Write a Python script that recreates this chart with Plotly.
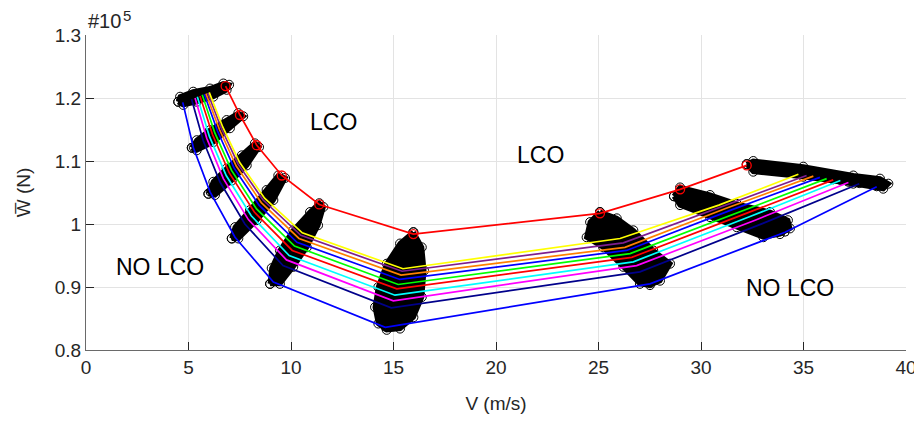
import plotly.graph_objects as go

# ---------------- data ----------------
# vertices of each curve at the 9 clusters (V in m/s, W in 1e5 N)
line_names = ["blue", "navy", "magenta", "cyan", "red", "green", "blue2",
              "orange", "purple", "yellow", "top"]
line_colors = ["#0000FF", "#00008B", "#FF00FF", "#00FFFF", "#FF0000", "#00FF00",
               "#0000FF", "#FF8000", "#7E1E8E", "#FFFF00", "#FF0000"]

V_blue = [4.72, 5.24, 6.05, 7.27, 9.14, 14.60, 27.51, 34.10, 38.57]
W_blue = [1.193, 1.121, 1.051, 0.979, 0.908, 0.836, 0.905, 0.987, 1.059]
V_navy = [5.15, 5.72, 6.53, 7.75, 9.61, 14.89, 27.02, 33.02, 37.72]
W_navy = [1.198, 1.132, 1.067, 1.000, 0.934, 0.867, 0.924, 1.001, 1.064]
V_magenta = [5.32, 5.89, 6.70, 7.92, 9.78, 14.99, 26.86, 32.64, 37.19]
W_magenta = [1.200, 1.136, 1.072, 1.007, 0.943, 0.878, 0.934, 1.006, 1.066]
V_cyan = [5.43, 6.02, 6.84, 8.06, 9.91, 15.07, 26.70, 32.33, 36.80]
W_cyan = [1.202, 1.139, 1.077, 1.013, 0.950, 0.887, 0.940, 1.011, 1.069]
V_red = [5.56, 6.17, 6.99, 8.21, 10.06, 15.16, 26.62, 32.00, 36.45]
W_red = [1.203, 1.142, 1.081, 1.019, 0.958, 0.897, 0.947, 1.015, 1.070]
V_green = [5.67, 6.28, 7.10, 8.32, 10.17, 15.23, 26.54, 31.75, 36.13]
W_green = [1.205, 1.145, 1.085, 1.024, 0.965, 0.904, 0.953, 1.018, 1.072]
V_blue2 = [5.77, 6.41, 7.22, 8.44, 10.29, 15.31, 26.37, 31.46, 35.80]
W_blue2 = [1.206, 1.148, 1.089, 1.030, 0.971, 0.912, 0.958, 1.022, 1.074]
V_orange = [5.85, 6.51, 7.33, 8.55, 10.39, 15.37, 26.29, 31.23, 35.48]
W_orange = [1.207, 1.150, 1.092, 1.034, 0.977, 0.919, 0.963, 1.025, 1.076]
V_purple = [5.94, 6.60, 7.42, 8.64, 10.48, 15.42, 26.21, 31.03, 35.15]
W_purple = [1.208, 1.152, 1.095, 1.038, 0.982, 0.925, 0.970, 1.028, 1.077]
V_yellow = [6.01, 6.67, 7.49, 8.71, 10.55, 15.46, 26.05, 30.87, 34.75]
W_yellow = [1.209, 1.154, 1.098, 1.041, 0.986, 0.929, 0.977, 1.030, 1.079]
V_top = [6.81, 7.51, 8.33, 9.55, 11.38, 15.97, 25.07, 28.98, 32.23]
W_top = [1.219, 1.173, 1.125, 1.077, 1.031, 0.984, 1.017, 1.055, 1.093]

line_V = [V_blue, V_navy, V_magenta, V_cyan, V_red, V_green, V_blue2,
          V_orange, V_purple, V_yellow, V_top]
line_W = [W_blue, W_navy, W_magenta, W_cyan, W_red, W_green, W_blue2,
          W_orange, W_purple, W_yellow, W_top]

# outlines of the dense clouds of black circle markers (one per cluster)
blob_V = [
    [4.50, 4.59, 5.23, 6.05, 6.70, 6.98, 6.86, 6.21, 5.40, 4.75],
    [5.16, 5.40, 6.05, 6.86, 7.43, 7.67, 7.02, 6.21, 5.40],
    [5.97, 6.21, 6.86, 7.60, 8.24, 8.44, 7.84, 7.11, 6.29],
    [7.11, 7.27, 8.00, 8.81, 9.38, 9.71, 9.14, 8.33, 7.43],
    [8.98, 9.06, 9.46, 10.11, 10.93, 11.38, 11.58, 11.32, 10.77, 10.11, 9.46],
    [15.97, 15.32, 14.67, 14.26, 14.10, 14.26, 14.67, 15.32, 15.97, 16.38, 16.49, 16.38],
    [25.07, 25.89, 26.70, 27.67, 28.49, 28.00, 27.51, 27.02, 26.21, 25.23, 24.42, 24.59],
    [28.68, 28.98, 30.44, 31.74, 33.37, 34.24, 34.34, 33.85, 33.04, 31.74, 30.44, 28.98],
    [32.23, 32.55, 34.99, 37.43, 38.73, 39.14, 38.89, 37.43, 34.99, 32.55],
]
blob_W = [
    [1.194, 1.202, 1.210, 1.215, 1.223, 1.221, 1.213, 1.202, 1.194, 1.189],
    [1.121, 1.133, 1.149, 1.165, 1.176, 1.171, 1.152, 1.130, 1.117],
    [1.048, 1.067, 1.088, 1.109, 1.128, 1.122, 1.093, 1.069, 1.046],
    [0.977, 0.995, 1.022, 1.054, 1.077, 1.073, 1.038, 1.006, 0.977],
    [0.905, 0.930, 0.958, 0.990, 1.019, 1.033, 1.027, 0.998, 0.963, 0.932, 0.905],
    [0.987, 0.969, 0.937, 0.900, 0.868, 0.842, 0.832, 0.834, 0.852, 0.884, 0.926, 0.963],
    [1.019, 1.009, 0.990, 0.958, 0.937, 0.910, 0.903, 0.905, 0.932, 0.963, 0.979, 1.003],
    [1.044, 1.058, 1.046, 1.032, 1.019, 1.006, 0.993, 0.984, 0.979, 0.995, 1.011, 1.030],
    [1.095, 1.100, 1.091, 1.077, 1.072, 1.064, 1.056, 1.064, 1.075, 1.083],
]

x_ticks = [0, 5, 10, 15, 20, 25, 30, 35, 40]
y_ticks = [0.8, 0.9, 1.0, 1.1, 1.2, 1.3]
y_tick_labels = ["0.8", "0.9", "1", "1.1", "1.2", "1.3"]

region_labels = ["LCO", "LCO", "NO LCO", "NO LCO"]
region_V = [12.05, 22.15, 3.61, 34.34]
region_W = [1.162, 1.109, 0.931, 0.898]

FONT = "Liberation Sans, Arial"

# ---------------- figure ----------------
fig = go.Figure()

for bv, bw in zip(blob_V, blob_W):
    fig.add_trace(go.Scatter(
        x=bv + [bv[0]], y=bw + [bw[0]], mode="lines+markers", fill="toself",
        fillcolor="black", line=dict(color="black", width=5),
        marker=dict(symbol="circle-open", size=9, color="black", line=dict(width=1)),
        hoverinfo="skip", showlegend=False))

# black circles at every curve vertex
for vv, ww in zip(line_V[:-1], line_W[:-1]):
    fig.add_trace(go.Scatter(
        x=vv, y=ww, mode="markers",
        marker=dict(symbol="circle-open", size=8, color="black", line=dict(width=1)),
        hoverinfo="skip", showlegend=False))

for name, col, vv, ww in zip(line_names, line_colors, line_V, line_W):
    fig.add_trace(go.Scatter(
        x=vv, y=ww, mode="lines+markers" if name == "top" else "lines",
        line=dict(color=col, width=1.7),
        marker=dict(symbol="circle-open", size=9, color=col, line=dict(width=1.3)),
        name=name, showlegend=False))

for txt, xv, yv in zip(region_labels, region_V, region_W):
    fig.add_annotation(x=xv, y=yv, text=txt, showarrow=False,
                       font=dict(family=FONT, size=23, color="#000000"))

# exponent label "#10^5" above the y axis
fig.add_annotation(xref="paper", yref="paper", x=0, y=1, xanchor="left", yanchor="middle",
                   yshift=14, text="#10", showarrow=False,
                   font=dict(family=FONT, size=20, color="#262626"))
fig.add_annotation(xref="paper", yref="paper", x=0, y=1, xanchor="left", yanchor="middle",
                   xshift=35, yshift=20, text="5", showarrow=False,
                   font=dict(family=FONT, size=15, color="#262626"))

axis_common = dict(
    showgrid=True, gridcolor="#E3E3E3", gridwidth=1,
    showline=True, linecolor="#6A6A6A", linewidth=1,
    ticks="inside", ticklen=8, tickcolor="#262626", tickwidth=1,
    zeroline=False, mirror=False, automargin=False,
    tickfont=dict(family=FONT, size=19, color="#262626"),
)

fig.update_xaxes(range=[0, 40], tickvals=x_ticks,
                 title=dict(text="V (m/s)", standoff=19,
                            font=dict(family=FONT, size=19, color="#262626")),
                 **axis_common)
fig.update_yaxes(range=[0.8, 1.3], tickvals=y_ticks, ticktext=y_tick_labels,
                 title=dict(text="W\u0305 (N)", standoff=19,
                            font=dict(family=FONT, size=19, color="#262626")),
                 **axis_common)

# the page body adds an 8 px offset, so the figure is 8 px smaller and margins shifted
fig.update_layout(
    width=914, height=414,
    margin=dict(l=78, r=16, t=27, b=72),
    paper_bgcolor="white", plot_bgcolor="white",
    showlegend=False,
)

fig.write_html("out.html")
